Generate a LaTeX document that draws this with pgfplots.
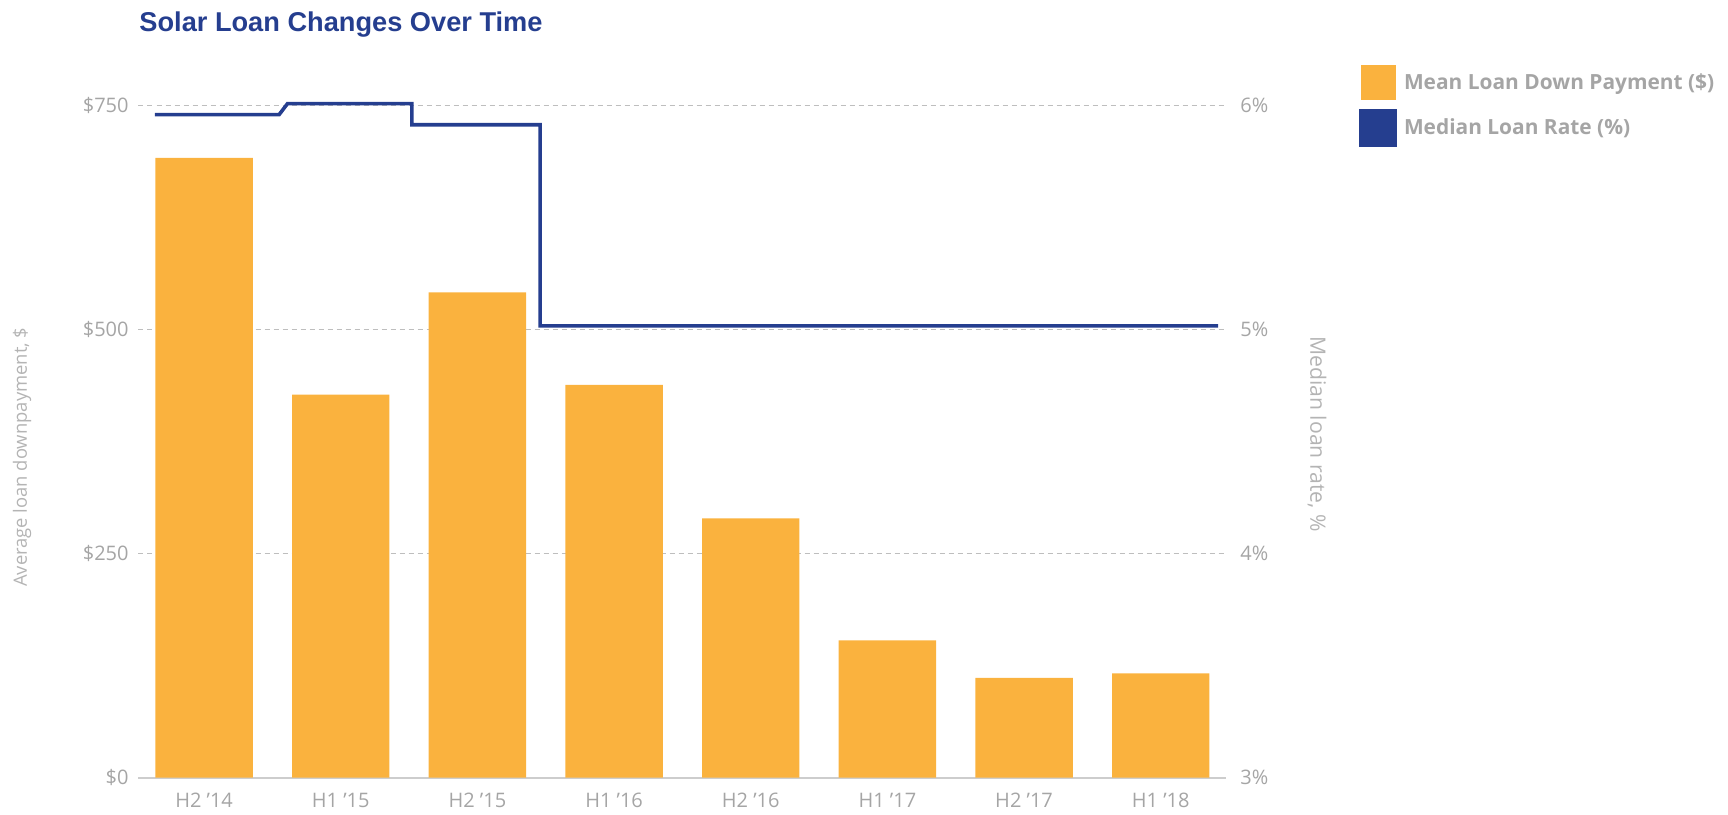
\documentclass[border=0pt]{standalone}
\usepackage{pgfplots}
\pgfplotsset{compat=1.18}
\usepackage{fontspec}
\setmainfont{Open Sans}
\newfontfamily\titlefont{Liberation Sans}
\definecolor{barorange}{RGB}{250,178,62}
\definecolor{navy}{RGB}{37,62,143}
\definecolor{ticktext}{RGB}{165,165,165}
\definecolor{labeltext}{RGB}{180,180,180}
\definecolor{gridgray}{RGB}{190,190,190}
\definecolor{basegray}{RGB}{205,205,205}
\begin{document}
\begin{tikzpicture}
\pgfplotsset{
  common/.style={
    scale only axis,
    width=543.5pt, height=340.73pt,
    xmin=-0.480, xmax=7.474,
    at={(0,0)}, anchor=south west,
    tick style={draw=none},
    clip=false,
  }
}
\begin{axis}[common,
  ymin=0, ymax=760,
  axis x line*=bottom, axis y line*=left,
  x axis line style={draw=basegray, line width=1pt, -},
  y axis line style={draw=none},
  ytick={0,250,500,750},
  yticklabels={\$0,\$250,\$500,\$750},
  ymajorgrids,
  grid style={draw=gridgray, line width=0.5pt, dash pattern=on 2.5pt off 2pt},
  xtick={0,1,2,3,4,5,6,7},
  xticklabels={H2 ’14,H1 ’15,H2 ’15,H1 ’16,H2 ’16,H1 ’17,H2 ’17,H1 ’18},
  xticklabel style={font=\fontsize{10}{12}\selectfont, text=ticktext, anchor=base, inner sep=0pt, yshift=-15.2pt},
  yticklabel style={font=\fontsize{10}{12}\selectfont, text=ticktext, anchor=base east, inner sep=0pt, xshift=-4.75pt, yshift=-3.5pt},
  ylabel={Average loan downpayment, \$},
  every axis y label/.style={at={(axis description cs:-0.107,0.470)}, rotate=90, anchor=center, font=\fontsize{9.2}{11}\selectfont, text=labeltext},
  title={\titlefont\bfseries\fontsize{13.6}{16}\selectfont Solar Loan Changes Over Time},
  every axis title/.style={at={(axis description cs:0.0005,1.0940)}, anchor=base west, inner sep=0pt, text=navy},
]
\addplot[ybar, bar width=0.713, fill=barorange, draw=none] coordinates {
  (0,691) (1,427) (2,541) (3,438) (4,289) (5,153) (6,111) (7,116)
};
\end{axis}
\begin{axis}[common,
  ymin=3, ymax=6.04,
  axis x line=none,
  axis y line*=right,
  y axis line style={draw=none},
  ytick={3,4,5,6},
  yticklabels={3\%,4\%,5\%,6\%},
  yticklabel style={font=\fontsize{10}{12}\selectfont, text=ticktext, anchor=base west, inner sep=0pt, xshift=7.25pt, yshift=-3.5pt},
  ylabel={Median loan rate, \%},
  every axis y label/.style={at={(axis description cs:1.0842,0.504)}, rotate=-90, anchor=center, font=\fontsize{10.6}{12}\selectfont, text=labeltext},
  legend style={at={(axis description cs:1.1228,1.0455)}, anchor=north west, draw=none, fill=none, inner sep=0pt, row sep=4.5pt,
    font=\bfseries\fontsize{10.45}{12}\selectfont, text=ticktext,
    nodes={inner sep=0pt, text=ticktext}},
  legend cell align=left,
]
\addlegendimage{legend image code/.code={\fill[barorange] (0pt,-8.5pt) rectangle (17pt,8.5pt); \path (20.5pt,0pt);}}
\addlegendentry{Mean Loan Down Payment (\$)}
\addplot[navy, line width=1.8pt, line join=miter, line cap=butt,
  legend image code/.code={\fill[navy] (0pt,-8.5pt) rectangle (17pt,8.5pt); \path (20.5pt,0pt);}] coordinates {
  (-0.360,5.957) (0.549,5.957) (0.610,6.006) (1.520,6.006) (1.520,5.912) (2.459,5.912) (2.459,5.015) (7.42,5.015)
};
\addlegendentry{Median Loan Rate (\%)}
\end{axis}
\pgfresetboundingbox
\useasboundingbox (-69.25pt,-18.25pt) rectangle (794.75pt,388.75pt);
\end{tikzpicture}
\end{document}
